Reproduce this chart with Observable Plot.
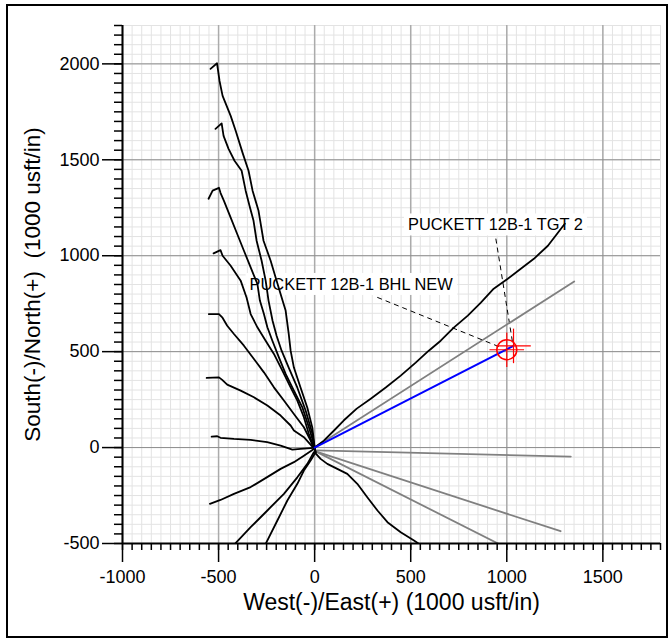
<!DOCTYPE html>
<html><head><meta charset="utf-8">
<script src="https://cdn.jsdelivr.net/npm/d3@7"></script>
<script src="https://cdn.jsdelivr.net/npm/@observablehq/plot@0.6"></script>
<style>
body{margin:0;background:#fff;font-family:"Liberation Sans",Arial,sans-serif;}
#wrap{position:relative;width:670px;height:639px;}
#wrap svg{position:absolute;left:0;top:0;}
#frame{position:absolute;left:6px;top:4px;width:662px;height:634px;box-sizing:border-box;border:2px solid #000;pointer-events:none;}
</style></head><body><div id="wrap"><div id="frame"></div></div>
<script>
// ---- axes ----
const xDomain = [-1000, 1800];
const yDomain = [-500, 2200];
const xTicksMajor = [-1000, -500, 0, 500, 1000, 1500];
const yTicksMajor = [-500, 0, 500, 1000, 1500, 2000];
const minorStep = 50;
const xTitle = "West(-)/East(+) (1000 usft/in)";
const yTitle = "South(-)/North(+) \u00a0(1000 usft/in)";

// ---- offset well paths (East, North) ----
const wellN1 = [[-542,1974],[-508,2003],[-495,1911],[-479,1833],[-437,1729],[-411,1651],[-375,1536],[-344,1443],[-323,1339],[-292,1234],[-266,1078],[-229,974],[-198,870],[-167,766],[-151,714],[-135,594],[-125,505],[-108,417],[-73,312],[-38,208],[-12,104],[0,0]];
const wellN2 = [[-516,1661],[-484,1690],[-474,1625],[-448,1557],[-417,1495],[-380,1443],[-359,1339],[-339,1260],[-318,1182],[-302,1078],[-276,974],[-255,870],[-240,766],[-219,661],[-198,583],[-172,505],[-135,417],[-90,312],[-47,193],[-12,73],[0,0]];
const wellN3 = [[-552,1297],[-531,1339],[-498,1354],[-490,1328],[-472,1286],[-437,1199],[-403,1113],[-368,1026],[-333,939],[-298,853],[-285,766],[-264,696],[-246,627],[-220,557],[-186,470],[-151,384],[-108,297],[-64,210],[-30,106],[-4,19],[0,0]];
const wellN4 = [[-526,1012],[-490,1029],[-479,1000],[-437,948],[-385,870],[-354,781],[-333,696],[-298,627],[-255,557],[-212,488],[-168,401],[-125,314],[-90,245],[-56,158],[-30,71],[-7,10],[0,0]];
const wellN5 = [[-551,696],[-498,696],[-481,679],[-455,635],[-420,592],[-368,531],[-316,462],[-264,392],[-212,314],[-160,245],[-108,175],[-56,106],[-21,36],[-7,2],[0,0]];
const wellN6 = [[-562,363],[-498,366],[-481,353],[-455,328],[-385,297],[-316,262],[-246,219],[-177,167],[-125,115],[-108,89],[-56,54],[-12,5],[0,0]];
const wellW = [[-536,57],[-507,59],[-490,51],[-420,45],[-333,40],[-247,28],[-177,10],[-116,-11],[-73,-7],[-4,-2],[0,0]];
const wellSW = [[-545,-293],[-490,-273],[-420,-241],[-333,-206],[-247,-154],[-177,-111],[-108,-76],[-56,-42],[-4,-7],[0,0]];
const wellS1 = [[-415,-502],[-333,-415],[-246,-328],[-160,-241],[-90,-155],[-38,-85],[-4,-24],[5,-25],[0,0]];
const wellS2 = [[-255,-502],[-194,-380],[-142,-276],[-90,-189],[-56,-120],[-21,-68],[5,-24],[0,0]];
const wellSE = [[0,0],[5,-30],[31,-59],[66,-85],[118,-111],[170,-137],[222,-189],[274,-259],[327,-328],[379,-389],[448,-441],[517,-484],[543,-502]];
const wellNE = [[0,0],[48,36],[101,89],[151,141],[219,203],[292,255],[370,313],[448,375],[526,443],[594,505],[656,557],[724,625],[797,688],[865,755],[932,828],[1005,880],[1073,932],[1141,984],[1214,1052],[1302,1167]];

// ---- planned (gray) laterals ----
const planNE = [[0,0],[1351,866]];
const planE = [[5,-15],[1333,-47]];
const planSE1 = [[5,-20],[1280,-436]];
const planSE2 = [[5,-20],[958,-502]];

// ---- subject well plan (blue) ----
const planSubject = [[0,0],[1035,530]];

// ---- targets ----
const targetNames = ["PUCKETT 12B-1 BHL NEW", "PUCKETT 12B-1 TGT 2"];
const targetX = [1000, 1035];
const targetY = [510, 530];
const labelX = [190, 941];
const labelY = [849, 1159];
const leaderFromX = [326, 943];
const leaderFromY = [783, 1089];
const leaderToX = [969, 1030];
const leaderToY = [522, 548];

const toRows = (id, arr) => arr.map(([x, y]) => ({id, x, y}));
const offsetRows = [
  ["N1", wellN1], ["N2", wellN2], ["N3", wellN3], ["N4", wellN4], ["N5", wellN5], ["N6", wellN6],
  ["W", wellW], ["SW", wellSW], ["S1", wellS1], ["S2", wellS2], ["SE", wellSE], ["NE", wellNE]
].flatMap(([id, a]) => toRows(id, a));
const planRows = [["pNE", planNE], ["pE", planE], ["pSE1", planSE1], ["pSE2", planSE2]].flatMap(([id, a]) => toRows(id, a));
const subjectRows = toRows("subject", planSubject);
const targets = targetNames.map((name, i) => ({
  name, x: targetX[i], y: targetY[i], lx: labelX[i], ly: labelY[i],
  fx: leaderFromX[i], fy: leaderFromY[i], tx: leaderToX[i], ty: leaderToY[i]
}));
const arm = 90;

const xMinor = d3.range(xDomain[0], xDomain[1] + 1, minorStep);
const yMinor = d3.range(yDomain[0], yDomain[1] + 1, minorStep);
const fmt = d => String(d);

const chart = Plot.plot({
  width: 670, height: 639,
  marginLeft: 122, marginRight: 10, marginTop: 25, marginBottom: 96,
  style: {fontFamily: "'Liberation Sans', Arial, sans-serif", fontSize: "18px", background: "transparent", color: "#000"},
  x: {domain: xDomain, axis: null},
  y: {domain: yDomain, axis: null},
  marks: [
    Plot.gridX(xMinor, {stroke: "#e3e3e3", strokeOpacity: 1, strokeWidth: 1}),
    Plot.gridY(yMinor, {stroke: "#e3e3e3", strokeOpacity: 1, strokeWidth: 1}),
    Plot.gridX(xTicksMajor, {stroke: "#ababab", strokeOpacity: 1, strokeWidth: 1.5}),
    Plot.gridY(yTicksMajor, {stroke: "#8c8c8c", strokeOpacity: 1, strokeWidth: 1}),
    Plot.text(targets, {x: "lx", y: "ly", text: "name", fontSize: 16.4, fill: "#000"}),
    Plot.link(targets, {x1: "fx", y1: "fy", x2: "tx", y2: "ty", stroke: "#000", strokeWidth: 1, strokeDasharray: "5,4"}),
    Plot.line(planRows, {x: "x", y: "y", z: "id", stroke: "#808080", strokeWidth: 1.8, clip: true}),
    Plot.line(offsetRows, {x: "x", y: "y", z: "id", stroke: "#000", strokeWidth: 1.8, clip: true}),
    Plot.line(subjectRows, {x: "x", y: "y", stroke: "#0000ff", strokeWidth: 2}),
    Plot.dot(targets.slice(0, 1), {x: "x", y: "y", r: 10, stroke: "#ff0000", fill: "none", strokeWidth: 1.5}),
    Plot.link(targets, {x1: d => d.x - arm, x2: d => d.x + arm, y1: "y", y2: "y", stroke: "#ff0000", strokeWidth: 1.2}),
    Plot.link(targets, {x1: "x", x2: "x", y1: d => d.y - arm, y2: d => d.y + arm, stroke: "#ff0000", strokeWidth: 1.2}),
    Plot.ruleX([xDomain[0]], {stroke: "#000", strokeWidth: 2}),
    Plot.ruleY([yDomain[0]], {stroke: "#000", strokeWidth: 2}),
    Plot.axisX(xMinor, {anchor: "bottom", tickSize: 7, tickFormat: () => "", label: null, strokeWidth: 1.5}),
    Plot.axisY(yMinor, {anchor: "left", tickSize: 8, tickFormat: () => "", label: null, strokeWidth: 1.5}),
    Plot.axisX(xTicksMajor, {anchor: "bottom", tickSize: 19, tickPadding: 8, tickFormat: fmt, label: null, strokeWidth: 1.5, fontSize: 18}),
    Plot.axisY(yTicksMajor, {anchor: "left", tickSize: 20, tickPadding: 3, tickFormat: fmt, label: null, strokeWidth: 1.5, fontSize: 18}),
    Plot.text([xTitle], {frameAnchor: "bottom", textAnchor: "middle", dy: 66, fontSize: 23, fill: "#000"}),
    Plot.text([yTitle], {frameAnchor: "left", textAnchor: "middle", dx: -90, rotate: -90, fontSize: 22.5, fill: "#000"})
  ]
});
const wrap = document.getElementById("wrap");
wrap.insertBefore(chart, wrap.firstChild);

// white boxes behind the target labels
const svgRect = chart.getBoundingClientRect();
chart.querySelectorAll("text").forEach(t => {
  if (!t.textContent.startsWith("PUCKETT")) return;
  const b = t.getBoundingClientRect();
  const r = document.createElementNS("http://www.w3.org/2000/svg", "rect");
  r.setAttribute("x", b.left - svgRect.left - 4);
  r.setAttribute("y", b.top - svgRect.top - 2);
  r.setAttribute("width", b.width + 8);
  r.setAttribute("height", b.height + 4);
  r.setAttribute("fill", "#fff");
  const g = t.parentNode;
  g.parentNode.insertBefore(r, g);
});
</script></body></html>
